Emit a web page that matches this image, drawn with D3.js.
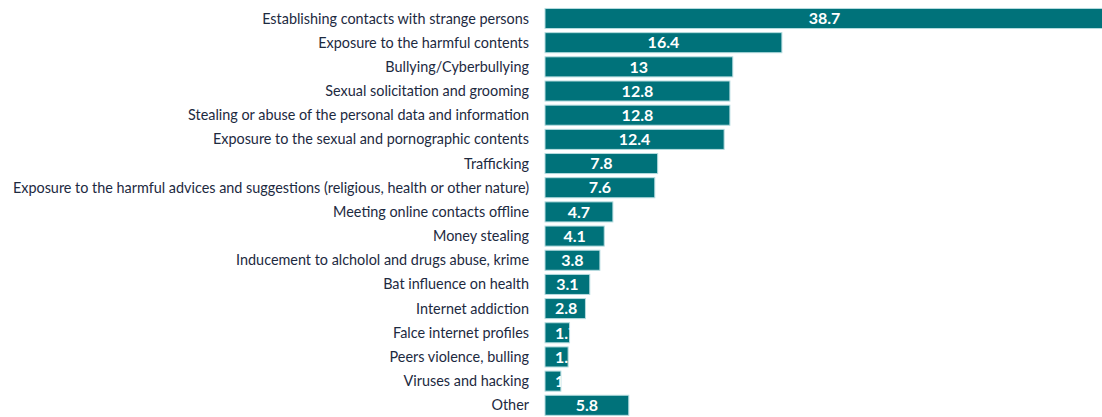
<!DOCTYPE html>
<html>
<head>
<meta charset="utf-8">
<script src="https://cdn.jsdelivr.net/npm/d3@7"></script>
<style>
  body { margin: 0; background: #fff; }
  svg { display: block; }
</style>
</head>
<body>
<svg id="chart" width="1102" height="417"></svg>
<script>
const categories = [
    "Establishing contacts with strange persons",
    "Exposure to the harmful contents",
    "Bullying/Cyberbullying",
    "Sexual solicitation and grooming",
    "Stealing or abuse of the personal data and information",
    "Exposure to the sexual and pornographic contents ",
    "Trafficking",
    "Exposure to the harmful advices and suggestions (religious, health or other nature)",
    "Meeting online contacts offline",
    "Money stealing",
    "Inducement to alcholol and drugs abuse, krime",
    "Bat influence on health",
    "Internet addiction",
    "Falce internet profiles",
    "Peers violence, bulling",
    "Viruses and hacking",
    "Other"
];
const values = [38.7, 16.4, 13, 12.8, 12.8, 12.4, 7.8, 7.6, 4.7, 4.1, 3.8, 3.1, 2.8, 1.7, 1.6, 1.1, 5.8];

const data = categories.map((c, i) => ({ key: c, value: values[i] }));

const svg = d3.select("#chart");

const x = d3.scaleLinear().domain([0, 38.7]).range([545, 1104]);
const y = d3.scaleBand()
    .domain(categories)
    .range([6.3, 417.5])
    .paddingInner(0.17)
    .paddingOuter(0.09);

// Category labels
svg.append("g")
    .selectAll("text")
    .data(data)
    .enter()
    .append("text")
    .attr("x", 529)
    .attr("y", d => y(d.key) + y.bandwidth() / 2)
    .attr("dy", "0.35em")
    .attr("text-anchor", "end")
    .style("font-family", "Lato, 'Open Sans', sans-serif")
    .style("font-size", "14.4px")
    .style("fill", "#1d2a3f")
    .text(d => d.key);

// Clip paths so value labels stay inside their bar
const defs = svg.append("defs");
defs.selectAll("clipPath")
    .data(data)
    .enter()
    .append("clipPath")
    .attr("id", (d, i) => "clip" + i)
    .append("rect")
    .attr("x", x(0))
    .attr("y", d => y(d.key))
    .attr("width", d => x(d.value) - x(0))
    .attr("height", y.bandwidth());

// Draw bars
const bars = svg.append("g")
    .selectAll(".bar")
    .data(data)
    .enter()
    .append("g")
    .attr("class", "bar");

bars.append("rect")
    .attr("x", x(0))
    .attr("y", d => y(d.key))
    .attr("width", d => x(d.value) - x(0))
    .attr("height", y.bandwidth())
    .attr("fill", "#00727a")
    .attr("stroke", "#b5dcdf")
    .attr("stroke-width", 1);

// Value labels (centered, pushed right when the bar is too narrow)
bars.append("text")
    .attr("clip-path", (d, i) => `url(#clip${i})`)
    .attr("y", d => y(d.key) + y.bandwidth() / 2)
    .attr("dy", "0.36em")
    .attr("text-anchor", "middle")
    .style("font-family", "Lato, 'Open Sans', sans-serif")
    .style("font-weight", "bold")
    .style("font-size", "16px")
    .style("fill", "#fff")
    .text(d => d.value)
    .attr("x", function(d) {
        const w = this.getComputedTextLength();
        const center = (x(0) + x(d.value)) / 2;
        return Math.max(center, x(0) + 10 + w / 2);
    });
</script>
</body>
</html>
